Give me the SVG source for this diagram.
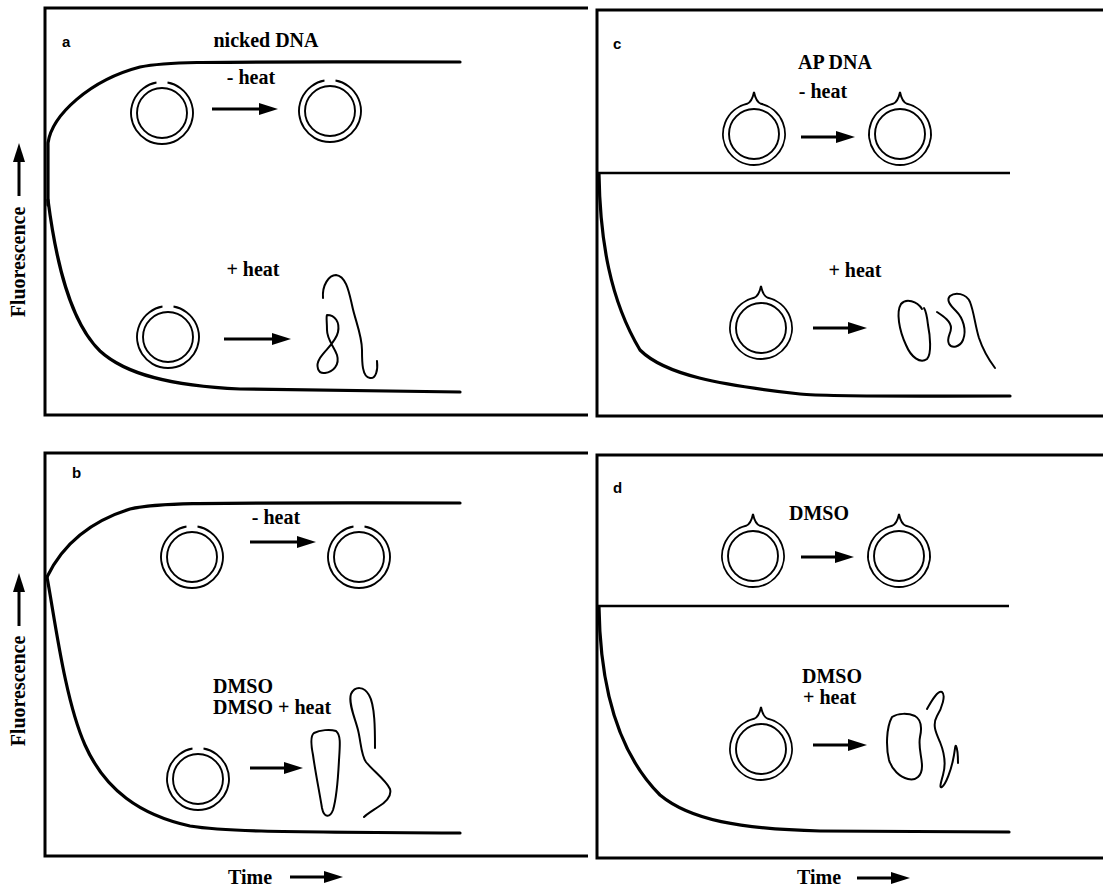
<svg xmlns="http://www.w3.org/2000/svg" width="1103" height="888" viewBox="0 0 1103 888">
  <style>
    .frame { fill: none; stroke: #000; stroke-width: 3; }
    .curve { fill: none; stroke: #000; stroke-width: 3.2; stroke-linecap: round; stroke-linejoin: round; }
    .flat { fill: none; stroke: #000; stroke-width: 2.6; }
    .ring { fill: none; stroke: #000; stroke-width: 1.9; }
    .strand { fill: none; stroke: #000; stroke-width: 2; stroke-linecap: round; stroke-linejoin: round; }
    .arrow { fill: none; stroke: #000; stroke-width: 3; marker-end: url(#head); }
    .lbl { font-family: "Liberation Serif", "Times New Roman", serif; font-weight: bold; font-size: 20px; fill: #000; }
    .mid { text-anchor: middle; }
    .tag { font-family: "Liberation Sans", Arial, sans-serif; font-weight: bold; font-size: 15px; fill: #000; }
  </style>
  <defs>
    <marker id="head" markerUnits="userSpaceOnUse" markerWidth="22" markerHeight="14" viewBox="0 -7 22 14" refX="4" refY="0" orient="auto">
      <path d="M0,-6 L19,0 L0,6 Z" fill="#000"/>
    </marker>
    <!-- relaxed circle with a single-strand nick at the top -->
    <g id="nicked">
      <path class="ring" d="M -5.5,-30.5 A 31 31 0 1 0 5.5,-30.5"/>
      <circle class="ring" r="25"/>
    </g>
    <!-- circle carrying an abasic (AP) site, drawn as a small spike -->
    <g id="apsite">
      <path class="ring" d="M -7,-30.2 A 31 31 0 1 0 7,-30.2 Q 2,-32 0,-42 Q -2,-32 -7,-30.2 Z"/>
      <circle class="ring" r="25"/>
    </g>
  </defs>

  <rect width="1103" height="888" fill="#fff"/>

  <!-- axis labels -->
  <g id="axes">
    <text class="lbl mid" transform="translate(25,262) rotate(-90)">Fluorescence</text>
    <line class="arrow" x1="19" y1="196" x2="19" y2="158"/>
    <text class="lbl mid" transform="translate(25,691) rotate(-90)">Fluorescence</text>
    <line class="arrow" x1="19" y1="626" x2="19" y2="588"/>
    <text class="lbl" x="228" y="884">Time</text>
    <line class="arrow" x1="290" y1="877" x2="328" y2="877"/>
    <text class="lbl" x="797" y="884">Time</text>
    <line class="arrow" x1="857" y1="878" x2="895" y2="878"/>
  </g>

  <!-- panel a: nicked DNA -->
  <g id="panel-a">
    <polyline class="frame" points="588,8 45,8 45,415 588,415"/>
    <text class="tag" x="62" y="47">a</text>
    <text class="lbl mid" x="266" y="47">nicked DNA</text>
    <path class="curve" d="M 48,205 L 48,143 C 52,115 90,80 140,67 C 170,61 200,62 460,62"/>
    <path class="curve" d="M 48,200 C 56,262 70,322 100,351 C 125,374 170,386 240,389 L 460,392"/>
    <text class="lbl mid" x="251" y="84">- heat</text>
    <use href="#nicked" x="162" y="113"/>
    <use href="#nicked" x="330" y="111"/>
    <text class="lbl mid" x="253" y="276">+ heat</text>
    <use href="#nicked" x="168" y="337"/>
    <path class="strand" d="M 323,298 C 322,285 329,275 336,275 C 346,276 349,292 352,305 C 355,320 362,335 362,350 C 362,362 362,377 370,378 C 376,379 378,370 377,361"/>
    <path class="strand" d="M 327,315 C 335,315 340,322 338,332 C 336,342 325,350 320,358 C 315,366 318,374 325,373 C 333,372 340,365 337,355 C 334,346 327,340 327,330 C 327,322 326,317 327,315 Z"/>
  </g>

  <!-- panel b: nicked DNA with DMSO -->
  <g id="panel-b">
    <polyline class="frame" points="588,453 45,453 45,856 588,856"/>
    <text class="tag" x="72" y="478">b</text>
    <path class="curve" d="M 47,577 C 60,550 85,523 130,509 C 160,502 200,503 460,503"/>
    <path class="curve" d="M 47,577 C 55,620 65,700 85,745 C 105,790 140,815 190,826 C 220,831 260,832 460,833"/>
    <text class="lbl mid" x="276" y="524">- heat</text>
    <use href="#nicked" x="192" y="557"/>
    <use href="#nicked" x="359" y="557"/>
    <text class="lbl" x="213" y="693">DMSO</text>
    <text class="lbl" x="213" y="714">DMSO + heat</text>
    <use href="#nicked" x="198" y="779"/>
    <path class="strand" d="M 314,733 C 320,730 330,729 336,731 C 341,735 340,745 339,760 C 338,780 336,800 333,810 C 330,818 324,818 322,808 C 319,790 315,770 313,755 C 311,745 310,736 314,733 Z"/>
    <path class="strand" d="M 375,748 C 375,730 375,705 369,695 C 364,686 355,686 351,694 C 348,703 355,718 358,730 C 361,742 361,755 366,762 C 372,770 386,780 390,789 C 392,796 386,802 378,807 C 372,811 367,814 364,817"/>
  </g>

  <!-- panel c: AP DNA -->
  <g id="panel-c">
    <polyline class="frame" points="1103,10 597,10 597,416 1103,416"/>
    <text class="tag" x="613" y="49">c</text>
    <text class="lbl mid" x="835" y="69">AP DNA</text>
    <text class="lbl mid" x="823" y="98">- heat</text>
    <use href="#apsite" x="754" y="134"/>
    <use href="#apsite" x="900" y="134"/>
    <line class="flat" x1="597" y1="173" x2="1010" y2="173"/>
    <path class="curve" d="M 599,174 C 600,240 610,300 640,350 C 665,375 720,385 800,394 C 830,397 900,396 1010,396"/>
    <text class="lbl mid" x="855" y="277">+ heat</text>
    <use href="#apsite" x="761" y="328"/>
    <path class="strand" d="M 922,309 C 917,301 906,298 901,304 C 896,312 899,330 906,345 C 911,357 920,364 927,359 C 932,354 930,335 928,325 C 927,316 926,311 924,308"/>
    <path class="strand" d="M 937,312 C 943,316 951,321 951,328 C 951,334 946,338 949,344 C 952,349 960,347 963,340 C 967,330 963,318 956,311 C 950,305 946,300 950,296 C 955,292 966,293 970,302 C 974,312 975,325 979,338 C 983,350 989,360 995,368"/>
  </g>

  <!-- panel d: AP DNA with DMSO -->
  <g id="panel-d">
    <polyline class="frame" points="1103,455 597,455 597,858 1103,858"/>
    <text class="tag" x="613" y="493">d</text>
    <text class="lbl mid" x="819" y="520">DMSO</text>
    <use href="#apsite" x="753" y="556"/>
    <use href="#apsite" x="899" y="556"/>
    <line class="flat" x1="597" y1="606" x2="1009" y2="606"/>
    <path class="curve" d="M 599,607 C 600,680 615,750 660,795 C 690,820 740,829 820,831 L 1009,832"/>
    <text class="lbl" x="802" y="683">DMSO</text>
    <text class="lbl" x="803" y="704">+ heat</text>
    <use href="#apsite" x="761" y="749"/>
    <path class="strand" d="M 892,717 C 898,713 908,713 915,716 C 922,720 922,728 920,737 C 918,747 922,757 922,766 C 922,776 916,781 908,779 C 900,777 892,770 889,760 C 886,748 886,728 892,717 Z"/>
    <path class="strand" d="M 927,709 C 932,700 938,690 942,692 C 946,695 942,708 937,716 C 932,725 936,733 940,742 C 944,752 946,765 943,775 C 941,782 939,789 942,787 C 946,784 951,770 953,760 C 955,752 955,744 956,746 C 958,750 958,758 958,763"/>
  </g>

  <!-- reaction arrows -->
  <g id="connectors">
    <line class="arrow" x1="212" y1="109" x2="263" y2="109"/>
    <line class="arrow" x1="224" y1="339" x2="276" y2="339"/>
    <line class="arrow" x1="250" y1="542" x2="301" y2="542"/>
    <line class="arrow" x1="250" y1="768" x2="288" y2="768"/>
    <line class="arrow" x1="801" y1="137" x2="840" y2="137"/>
    <line class="arrow" x1="813" y1="328" x2="852" y2="328"/>
    <line class="arrow" x1="801" y1="557" x2="839" y2="557"/>
    <line class="arrow" x1="813" y1="745" x2="852" y2="745"/>
  </g>
</svg>
